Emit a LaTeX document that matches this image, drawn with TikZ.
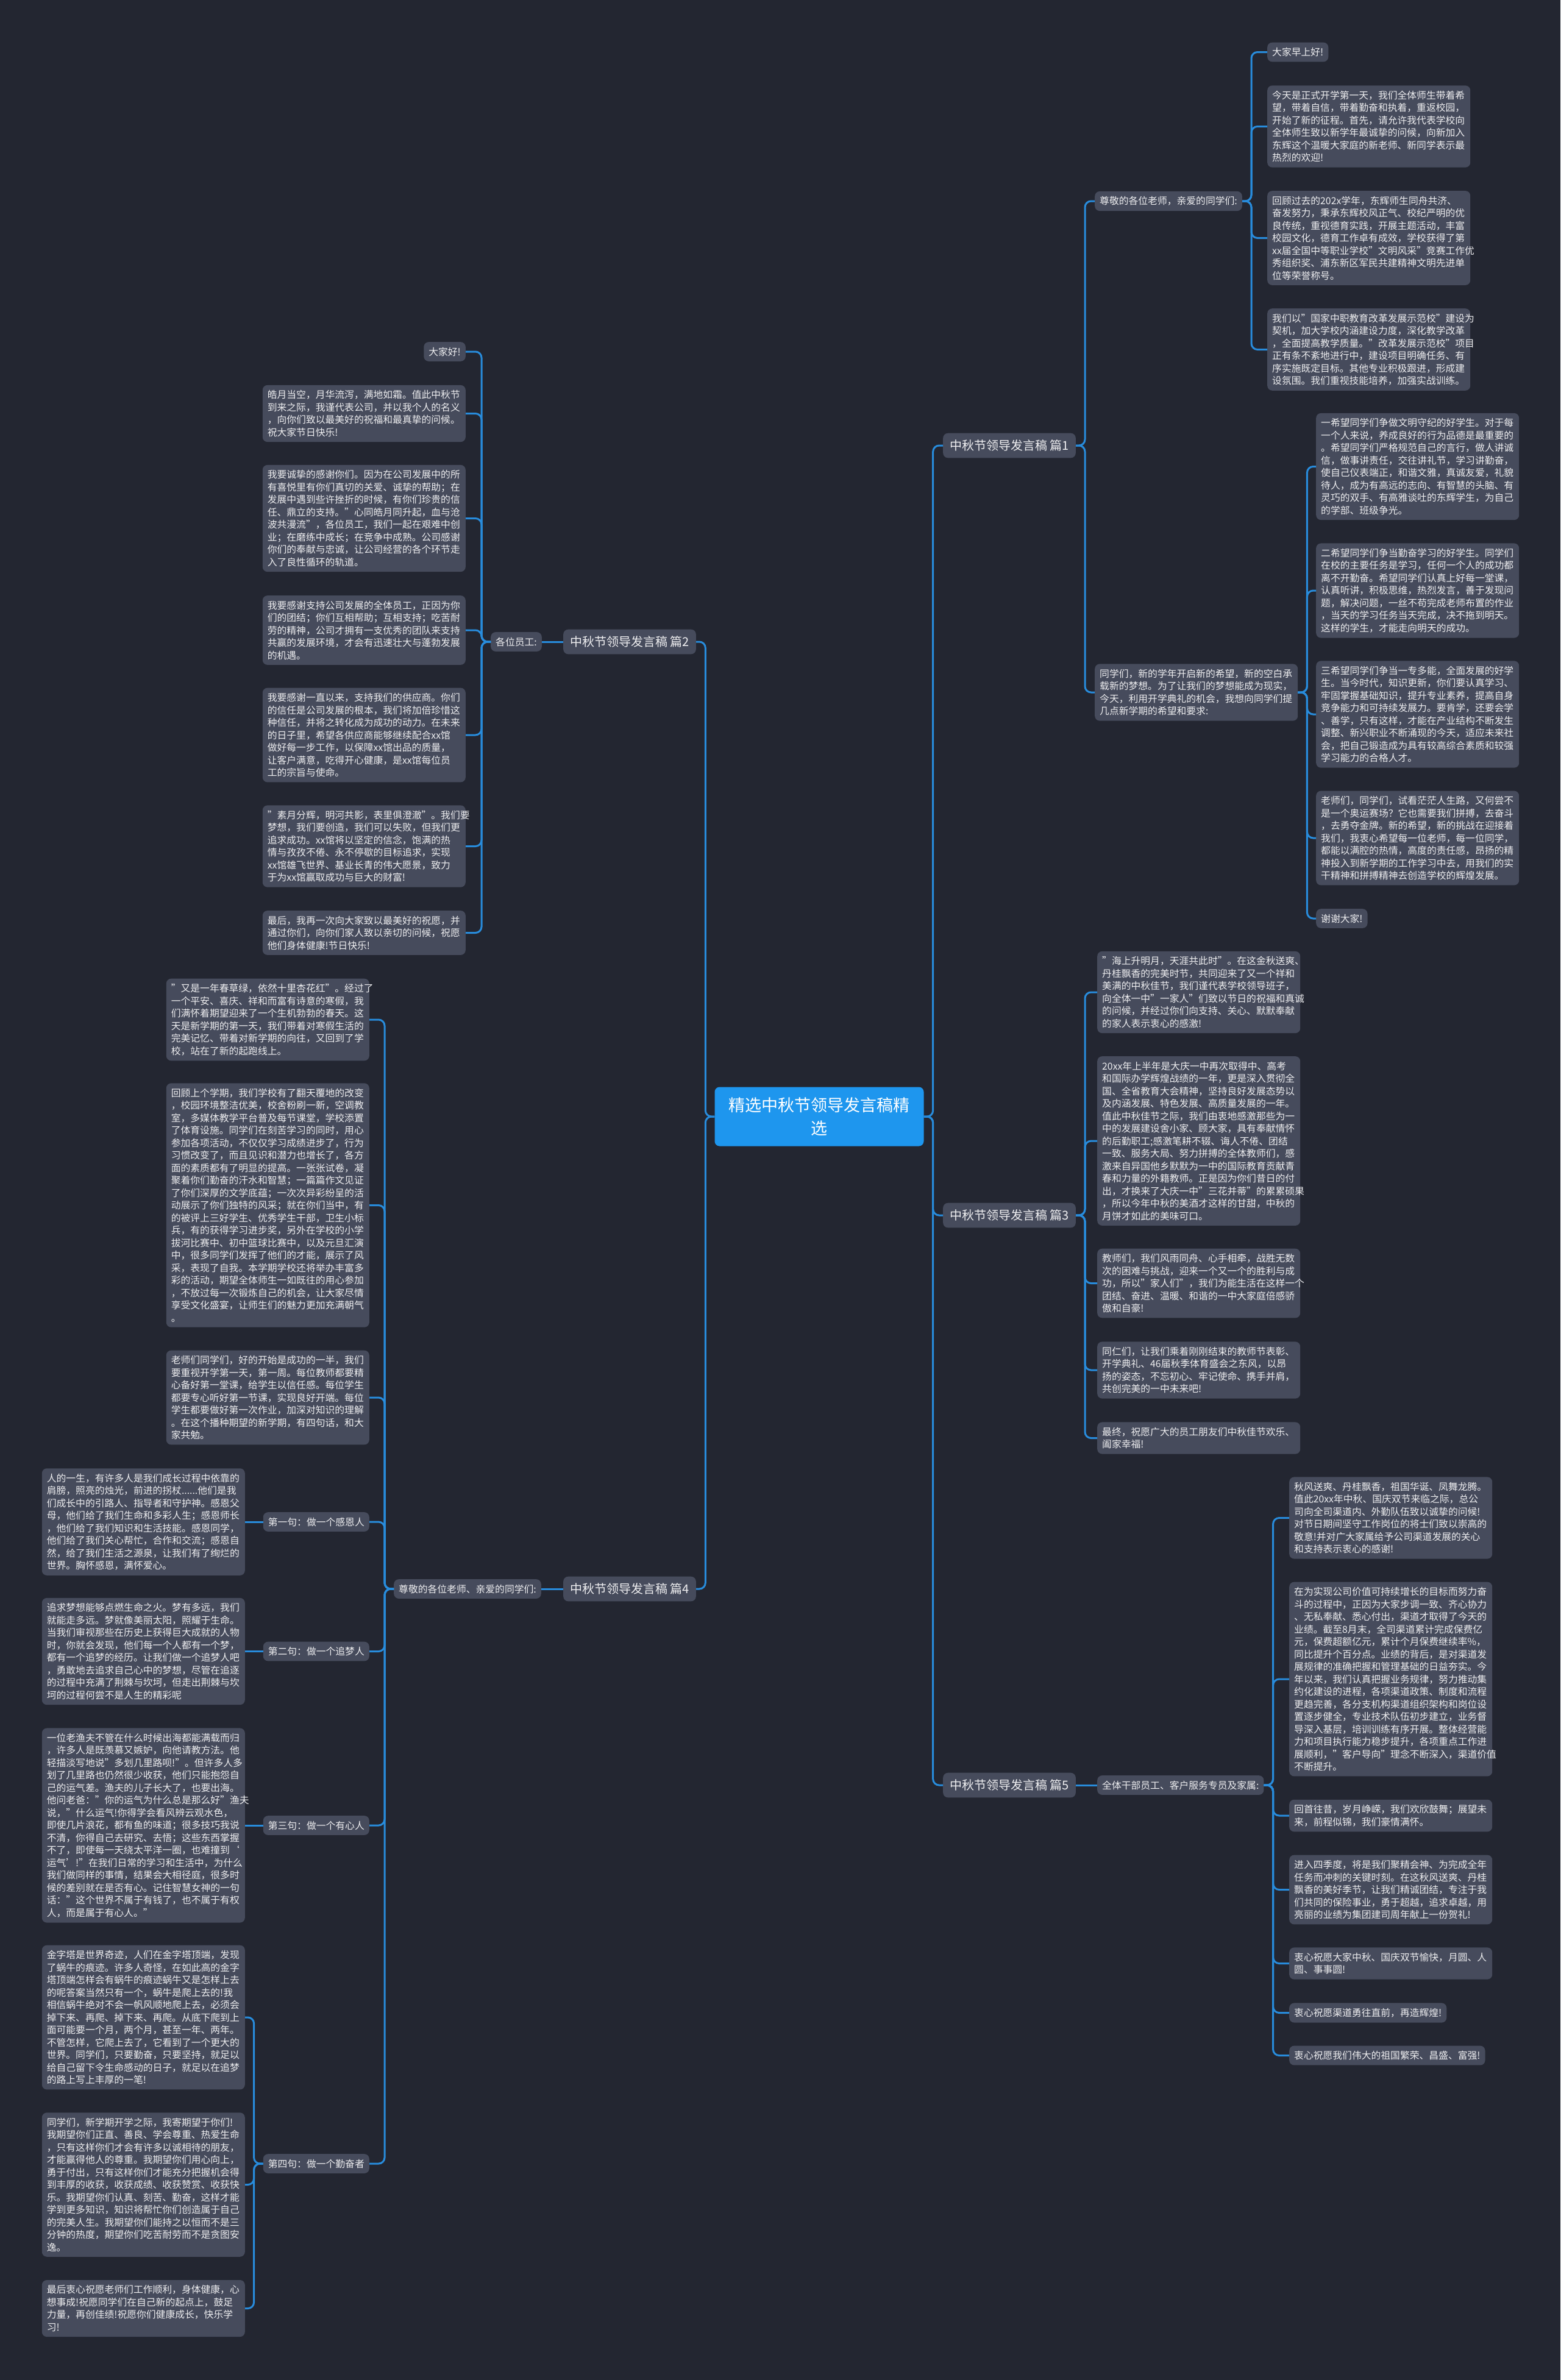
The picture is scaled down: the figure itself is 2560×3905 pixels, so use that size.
\documentclass[tikz,border=0pt]{standalone}
\usepackage{fontspec}
\setmainfont{Noto Sans CJK SC}
\definecolor{bgc}{RGB}{35,38,49}
\definecolor{boxc}{RGB}{70,75,92}
\definecolor{linec}{RGB}{40,140,220}
\definecolor{centc}{RGB}{30,150,238}
\definecolor{txtc}{RGB}{238,238,240}
\tikzset{
  box/.style={fill=boxc, rounded corners=8pt, text=txtc, font=\fontsize{15.8}{20.5}\selectfont, inner xsep=8pt, inner ysep=8.5pt},
  para/.style={box, text width=317pt, align=left},
  lab/.style={box, font=\fontsize{20}{26}\selectfont, inner xsep=11pt, inner ysep=11pt},
  centbox/.style={fill=centc, rounded corners=8pt, text=white, font=\fontsize{27}{38}\selectfont, inner xsep=23pt, inner ysep=17pt, align=center},
  conn/.style={draw=linec, line width=3pt, rounded corners=10pt}
}
\begin{document}
\begin{tikzpicture}[x=1pt,y=-1pt]
\fill[bgc] (0,0) rectangle (2560,3905);
\useasboundingbox (0,0) rectangle (2560,3905);

% centre
\node[centbox] (c) at (1344,1832) {精选中秋节领导发言稿精\\选};

% branch labels
\node[lab, anchor=west] (b1) at (1547,731) {中秋节领导发言稿 篇1};
\node[lab, anchor=west] (b3) at (1547,1994) {中秋节领导发言稿 篇3};
\node[lab, anchor=west] (b5) at (1547,2929) {中秋节领导发言稿 篇5};
\node[lab, anchor=east] (b2) at (1142,1053) {中秋节领导发言稿 篇2};
\node[lab, anchor=east] (b4) at (1142,2607) {中秋节领导发言稿 篇4};

% ---------- branch 1 ----------
\node[box, anchor=west] (s11) at (1796,330) {尊敬的各位老师，亲爱的同学们:};
\node[box, anchor=west] (r1a) at (2079,85.5) {大家早上好!};
\node[para, anchor=west] (r1b) at (2079,207.5) {今天是正式开学第一天，我们全体师生带着希\\望，带着自信，带着勤奋和执着，重返校园，\\开始了新的征程。首先，请允许我代表学校向\\全体师生致以新学年最诚挚的问候，向新加入\\东辉这个温暖大家庭的新老师、新同学表示最\\热烈的欢迎!};
\node[para, anchor=west] (r1c) at (2079,390.5) {回顾过去的202x学年，东辉师生同舟共济、\\奋发努力，秉承东辉校风正气、校纪严明的优\\良传统，重视德育实践，开展主题活动，丰富\\校园文化，德育工作卓有成效，学校获得了第\\xx届全国中等职业学校"文明风采"竞赛工作优\\秀组织奖、浦东新区军民共建精神文明先进单\\位等荣誉称号。};
\node[para, anchor=west] (r1d) at (2079,573.5) {我们以"国家中职教育改革发展示范校"建设为\\契机，加大学校内涵建设力度，深化教学改革\\，全面提高教学质量。"改革发展示范校"项目\\正有条不紊地进行中，建设项目明确任务、有\\序实施既定目标。其他专业积极跟进，形成建\\设氛围。我们重视技能培养，加强实战训练。};

\node[para, anchor=west] (s12) at (1796,1136) {同学们，新的学年开启新的希望，新的空白承\\载新的梦想。为了让我们的梦想能成为现实，\\今天，利用开学典礼的机会，我想向同学们提\\几点新学期的希望和要求:};
\node[para, anchor=west] (r1e) at (2159,765.5) {一希望同学们争做文明守纪的好学生。对于每\\一个人来说，养成良好的行为品德是最重要的\\。希望同学们严格规范自己的言行，做人讲诚\\信，做事讲责任，交往讲礼节，学习讲勤奋，\\使自己仪表端正，和谐文雅，真诚友爱，礼貌\\待人，成为有高远的志向、有智慧的头脑、有\\灵巧的双手、有高雅谈吐的东辉学生，为自己\\的学部、班级争光。};
\node[para, anchor=west] (r1f) at (2159,969) {二希望同学们争当勤奋学习的好学生。同学们\\在校的主要任务是学习，任何一个人的成功都\\离不开勤奋。希望同学们认真上好每一堂课，\\认真听讲，积极思维，热烈发言，善于发现问\\题，解决问题，一丝不苟完成老师布置的作业\\，当天的学习任务当天完成，决不拖到明天。\\这样的学生，才能走向明天的成功。};
\node[para, anchor=west] (r1g) at (2159,1172) {三希望同学们争当一专多能，全面发展的好学\\生。当今时代，知识更新，你们要认真学习、\\牢固掌握基础知识，提升专业素养，提高自身\\竞争能力和可持续发展力。要肯学，还要会学\\、善学，只有这样，才能在产业结构不断发生\\调整、新兴职业不断涌现的今天，适应未来社\\会，把自己锻造成为具有较高综合素质和较强\\学习能力的合格人才。};
\node[para, anchor=west] (r1h) at (2159,1375) {老师们，同学们，试看茫茫人生路，又何尝不\\是一个奥运赛场？它也需要我们拼搏，去奋斗\\，去勇夺金牌。新的希望，新的挑战在迎接着\\我们，我衷心希望每一位老师，每一位同学，\\都能以满腔的热情，高度的责任感，昂扬的精\\神投入到新学期的工作学习中去，用我们的实\\干精神和拼搏精神去创造学校的辉煌发展。};
\node[box, anchor=west] (r1i) at (2159,1507) {谢谢大家!};

% ---------- branch 3 ----------
\node[para, anchor=west] (r3a) at (1800,1628) {"海上升明月，天涯共此时"。在这金秋送爽、\\丹桂飘香的完美时节，共同迎来了又一个祥和\\美满的中秋佳节，我们谨代表学校领导班子，\\向全体一中"一家人"们致以节日的祝福和真诚\\的问候，并经过你们向支持、关心、默默奉献\\的家人表示衷心的感激!};
\node[para, anchor=west] (r3b) at (1800,1872) {20xx年上半年是大庆一中再次取得中、高考\\和国际办学辉煌战绩的一年，更是深入贯彻全\\国、全省教育大会精神，坚持良好发展态势以\\及内涵发展、特色发展、高质量发展的一年。\\值此中秋佳节之际，我们由衷地感激那些为一\\中的发展建设舍小家、顾大家，具有奉献情怀\\的后勤职工;感激笔耕不辍、诲人不倦、团结\\一致、服务大局、努力拼搏的全体教师们，感\\激来自异国他乡默默为一中的国际教育贡献青\\春和力量的外籍教师。正是因为你们昔日的付\\出，才换来了大庆一中"三花并蒂"的累累硕果\\，所以今年中秋的美酒才这样的甘甜，中秋的\\月饼才如此的美味可口。};
\node[para, anchor=west] (r3c) at (1800,2105.5) {教师们，我们风雨同舟、心手相牵，战胜无数\\次的困难与挑战，迎来一个又一个的胜利与成\\功，所以"家人们"，我们为能生活在这样一个\\团结、奋进、温暖、和谐的一中大家庭倍感骄\\傲和自豪!};
\node[para, anchor=west] (r3d) at (1800,2248) {同仁们，让我们乘着刚刚结束的教师节表彰、\\开学典礼、46届秋季体育盛会之东风，以昂\\扬的姿态，不忘初心、牢记使命、携手并肩，\\共创完美的一中未来吧!};
\node[para, anchor=west] (r3e) at (1800,2359.5) {最终，祝愿广大的员工朋友们中秋佳节欢乐、\\阖家幸福!};

% ---------- branch 5 ----------
\node[box, anchor=west] (s51) at (1800,2929) {全体干部员工、客户服务专员及家属:};
\node[para, anchor=west] (r5a) at (2115,2490.5) {秋风送爽、丹桂飘香，祖国华诞、凤舞龙腾。\\值此20xx年中秋、国庆双节来临之际，总公\\司向全司渠道内、外勤队伍致以诚挚的问候!\\对节日期间坚守工作岗位的将士们致以崇高的\\敬意!并对广大家属给予公司渠道发展的关心\\和支持表示衷心的感谢!};
\node[para, anchor=west] (r5b) at (2115,2755) {在为实现公司价值可持续增长的目标而努力奋\\斗的过程中，正因为大家步调一致、齐心协力\\、无私奉献、悉心付出，渠道才取得了今天的\\业绩。截至8月末，全司渠道累计完成保费亿\\元，保费超额亿元，累计个月保费继续率\%，\\同比提升个百分点。业绩的背后，是对渠道发\\展规律的准确把握和管理基础的日益夯实。今\\年以来，我们认真把握业务规律，努力推动集\\约化建设的进程，各项渠道政策、制度和流程\\更趋完善，各分支机构渠道组织架构和岗位设\\置逐步健全，专业技术队伍初步建立，业务督\\导深入基层，培训训练有序开展。整体经营能\\力和项目执行能力稳步提升，各项重点工作进\\展顺利，"客户导向"理念不断深入，渠道价值\\不断提升。};
\node[para, anchor=west] (r5c) at (2115,2979) {回首往昔，岁月峥嵘，我们欢欣鼓舞；展望未\\来，前程似锦，我们豪情满怀。};
\node[para, anchor=west] (r5d) at (2115,3100.5) {进入四季度，将是我们聚精会神、为完成全年\\任务而冲刺的关键时刻。在这秋风送爽、丹桂\\飘香的美好季节，让我们精诚团结，专注于我\\们共同的保险事业，勇于超越，追求卓越，用\\亮丽的业绩为集团建司周年献上一份贺礼!};
\node[para, anchor=west] (r5e) at (2115,3221.5) {衷心祝愿大家中秋、国庆双节愉快，月圆、人\\圆、事事圆!};
\node[box, anchor=west] (r5f) at (2115,3302.5) {衷心祝愿渠道勇往直前，再造辉煌!};
\node[box, anchor=west] (r5g) at (2115,3372.5) {衷心祝愿我们伟大的祖国繁荣、昌盛、富强!};

% ---------- branch 2 ----------
\node[box, anchor=east] (s21) at (889,1053) {各位员工:};
\node[box, anchor=east] (l2a) at (764,577) {大家好!};
\node[para, anchor=east] (l2b) at (764,678.5) {皓月当空，月华流泻，满地如霜。值此中秋节\\到来之际，我谨代表公司，并以我个人的名义\\，向你们致以最美好的祝福和最真挚的问候。\\祝大家节日快乐!};
\node[para, anchor=east] (l2c) at (764,850.5) {我要诚挚的感谢你们。因为在公司发展中的所\\有喜悦里有你们真切的关爱、诚挚的帮助；在\\发展中遇到些许挫折的时候，有你们珍贵的信\\任、鼎立的支持。"心同皓月同升起，血与沧\\波共漫流"，各位员工，我们一起在艰难中创\\业；在磨练中成长；在竞争中成熟。公司感谢\\你们的奉献与忠诚，让公司经营的各个环节走\\入了良性循环的轨道。};
\node[para, anchor=east] (l2d) at (764,1034) {我要感谢支持公司发展的全体员工，正因为你\\们的团结；你们互相帮助；互相支持；吃苦耐\\劳的精神，公司才拥有一支优秀的团队来支持\\共赢的发展环境，才会有迅速壮大与蓬勃发展\\的机遇。};
\node[para, anchor=east] (l2e) at (764,1206) {我要感谢一直以来，支持我们的供应商。你们\\的信任是公司发展的根本，我们将加倍珍惜这\\种信任，并将之转化成为成功的动力。在未来\\的日子里，希望各供应商能够继续配合xx馆\\做好每一步工作，以保障xx馆出品的质量，\\让客户满意，吃得开心健康，是xx馆每位员\\工的宗旨与使命。};
\node[para, anchor=east] (l2f) at (764,1388.5) {"素月分辉，明河共影，表里俱澄澈"。我们要\\梦想，我们要创造，我们可以失败，但我们更\\追求成功。xx馆将以坚定的信念，饱满的热\\情与孜孜不倦、永不停歇的目标追求，实现\\xx馆雄飞世界、基业长青的伟大愿景，致力\\于为xx馆赢取成功与巨大的财富!};
\node[para, anchor=east] (l2g) at (764,1530.5) {最后，我再一次向大家致以最美好的祝愿，并\\通过你们，向你们家人致以亲切的问候，祝愿\\他们身体健康!节日快乐!};

% ---------- branch 4 ----------
\node[box, anchor=east] (s41) at (888,2607) {尊敬的各位老师、亲爱的同学们:};
\node[para, anchor=east] (l4a) at (606,1673) {"又是一年春草绿，依然十里杏花红"。经过了\\一个平安、喜庆、祥和而富有诗意的寒假，我\\们满怀着期望迎来了一个生机勃勃的春天。这\\天是新学期的第一天，我们带着对寒假生活的\\完美记忆、带着对新学期的向往，又回到了学\\校，站在了新的起跑线上。};
\node[para, anchor=east] (l4b) at (606,1977.5) {回顾上个学期，我们学校有了翻天覆地的改变\\，校园环境整洁优美，校舍粉刷一新，空调教\\室，多媒体教学平台普及每节课堂，学校添置\\了体育设施。同学们在刻苦学习的同时，用心\\参加各项活动，不仅仅学习成绩进步了，行为\\习惯改变了，而且见识和潜力也增长了，各方\\面的素质都有了明显的提高。一张张试卷，凝\\聚着你们勤奋的汗水和智慧；一篇篇作文见证\\了你们深厚的文学底蕴；一次次异彩纷呈的活\\动展示了你们独特的风采；就在你们当中，有\\的被评上三好学生、优秀学生干部，卫生小标\\兵，有的获得学习进步奖，另外在学校的小学\\拔河比赛中、初中篮球比赛中，以及元旦汇演\\中，很多同学们发挥了他们的才能，展示了风\\采，表现了自我。本学期学校还将举办丰富多\\彩的活动，期望全体师生一如既往的用心参加\\，不放过每一次锻炼自己的机会，让大家尽情\\享受文化盛宴，让师生们的魅力更加充满朝气\\。};
\node[para, anchor=east] (l4c) at (606,2293) {老师们同学们，好的开始是成功的一半，我们\\要重视开学第一天，第一周。每位教师都要精\\心备好第一堂课，给学生以信任感。每位学生\\都要专心听好第一节课，实现良好开端。每位\\学生都要做好第一次作业，加深对知识的理解\\。在这个播种期望的新学期，有四句话，和大\\家共勉。};
\node[box, anchor=east] (q1) at (606,2497) {第一句：做一个感恩人};
\node[box, anchor=east] (q2) at (606,2709.5) {第二句：做一个追梦人};
\node[box, anchor=east] (q3) at (606,2995) {第三句：做一个有心人};
\node[box, anchor=east] (q4) at (606,3550) {第四句：做一个勤奋者};
\node[para, anchor=east] (l4d) at (402,2497) {人的一生，有许多人是我们成长过程中依靠的\\肩膀，照亮的烛光，前进的拐杖......他们是我\\们成长中的引路人、指导者和守护神。感恩父\\母，他们给了我们生命和多彩人生；感恩师长\\，他们给了我们知识和生活技能。感恩同学，\\他们给了我们关心帮忙，合作和交流；感恩自\\然，给了我们生活之源泉，让我们有了绚烂的\\世界。胸怀感恩，满怀爱心。};
\node[para, anchor=east] (l4e) at (402,2709.5) {追求梦想能够点燃生命之火。梦有多远，我们\\就能走多远。梦就像美丽太阳，照耀于生命。\\当我们审视那些在历史上获得巨大成就的人物\\时，你就会发现，他们每一个人都有一个梦，\\都有一个追梦的经历。让我们做一个追梦人吧\\，勇敢地去追求自己心中的梦想，尽管在追逐\\的过程中充满了荆棘与坎坷，但走出荆棘与坎\\坷的过程何尝不是人生的精彩呢};
\node[para, anchor=east] (l4f) at (402,2995) {一位老渔夫不管在什么时候出海都能满载而归\\，许多人是既羡慕又嫉妒，向他请教方法。他\\轻描淡写地说"多划几里路呗!"。但许多人多\\划了几里路也仍然很少收获，他们只能抱怨自\\己的运气差。渔夫的儿子长大了，也要出海。\\他问老爸："你的运气为什么总是那么好"渔夫\\说，"什么运气!你得学会看风辨云观水色，\\即使几片浪花，都有鱼的味道；很多技巧我说\\不清，你得自己去研究、去悟；这些东西掌握\\不了，即使每一天绕太平洋一圈，也难撞到‘\\运气’!"在我们日常的学习和生活中，为什么\\我们做同样的事情，结果会大相径庭，很多时\\候的差别就在是否有心。记住智慧女神的一句\\话："这个世界不属于有钱了，也不属于有权\\人，而是属于有心人。"};
\node[para, anchor=east] (l4g) at (402,3310) {金字塔是世界奇迹，人们在金字塔顶端，发现\\了蜗牛的痕迹。许多人奇怪，在如此高的金字\\塔顶端怎样会有蜗牛的痕迹蜗牛又是怎样上去\\的呢答案当然只有一个，蜗牛是爬上去的!我\\相信蜗牛绝对不会一帆风顺地爬上去，必须会\\掉下来、再爬、掉下来、再爬。从底下爬到上\\面可能要一个月，两个月，甚至一年、两年。\\不管怎样，它爬上去了，它看到了一个更大的\\世界。同学们，只要勤奋，只要坚持，就足以\\给自己留下令生命感动的日子，就足以在追梦\\的路上写上丰厚的一笔!};
\node[para, anchor=east] (l4h) at (402,3584.5) {同学们，新学期开学之际，我寄期望于你们!\\我期望你们正直、善良、学会尊重、热爱生命\\，只有这样你们才会有许多以诚相待的朋友，\\才能赢得他人的尊重。我期望你们用心向上，\\勇于付出，只有这样你们才能充分把握机会得\\到丰厚的收获，收获成绩、收获赞赏、收获快\\乐。我期望你们认真、刻苦、勤奋，这样才能\\学到更多知识，知识将帮忙你们创造属于自己\\的完美人生。我期望你们能持之以恒而不是三\\分钟的热度，期望你们吃苦耐劳而不是贪图安\\逸。};
\node[para, anchor=east] (l4i) at (402,3787.5) {最后衷心祝愿老师们工作顺利，身体健康，心\\想事成!祝愿同学们在自己新的起点上，鼓足\\力量，再创佳绩!祝愿你们健康成长，快乐学\\习!};

% ---------- connectors ----------
\foreach \b in {b1,b3,b5} \draw[conn] (c.east) -- ++(15,0) |- (\b.west);
\foreach \b in {b2,b4} \draw[conn] (c.west) -- ++(-15,0) |- (\b.east);

\foreach \s in {s11,s12} \draw[conn] (b1.east) -- ++(15,0) |- (\s.west);
\foreach \s in {r1a,r1b,r1c,r1d} \draw[conn] (s11.east) -- ++(15,0) |- (\s.west);
\foreach \s in {r1e,r1f,r1g,r1h,r1i} \draw[conn] (s12.east) -- ++(15,0) |- (\s.west);

\foreach \s in {r3a,r3b,r3c,r3d,r3e} \draw[conn] (b3.east) -- ++(15,0) |- (\s.west);

\draw[conn] (b5.east) -- (s51.west);
\foreach \s in {r5a,r5b,r5c,r5d,r5e,r5f,r5g} \draw[conn] (s51.east) -- ++(15,0) |- (\s.west);

\draw[conn] (b2.west) -- (s21.east);
\foreach \s in {l2a,l2b,l2c,l2d,l2e,l2f,l2g} \draw[conn] (s21.west) -- ++(-15,0) |- (\s.east);

\draw[conn] (b4.west) -- (s41.east);
\foreach \s in {l4a,l4b,l4c,q1,q2,q3,q4} \draw[conn] (s41.west) -- ++(-15,0) |- (\s.east);
\draw[conn] (q1.west) -- (l4d.east);
\draw[conn] (q2.west) -- (l4e.east);
\draw[conn] (q3.west) -- (l4f.east);
\foreach \s in {l4g,l4h,l4i} \draw[conn] (q4.west) -- ++(-15,0) |- (\s.east);
\end{tikzpicture}
\end{document}
